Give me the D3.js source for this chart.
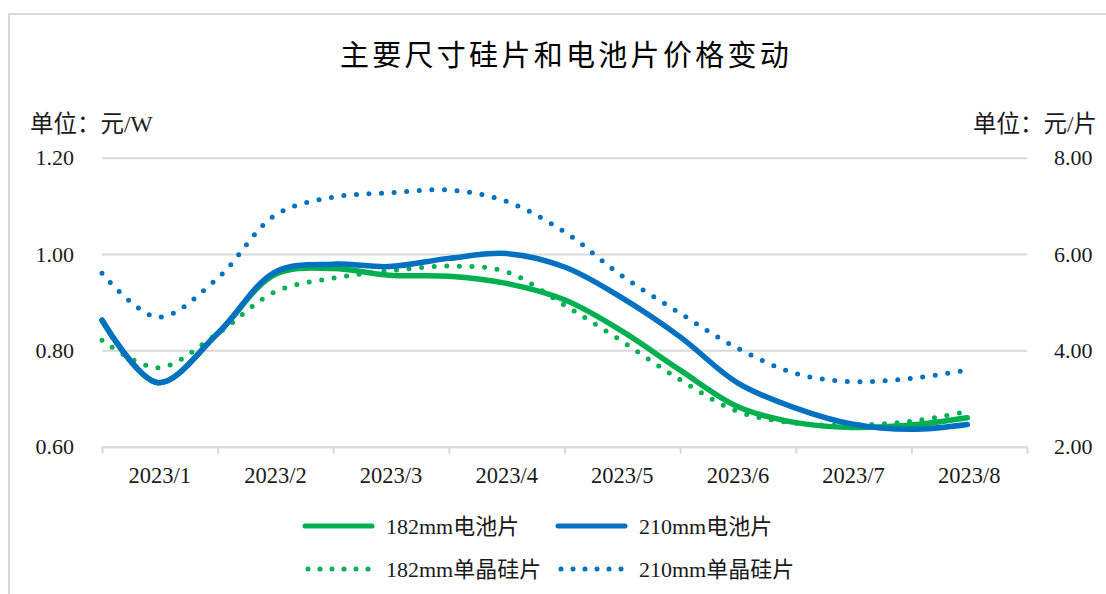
<!DOCTYPE html>
<html>
<head>
<meta charset="utf-8">
<script src="https://cdn.jsdelivr.net/npm/d3@7"></script>
<style>
  body { margin: 0; background: #fff; }
  svg { font-family: "Liberation Serif", "Noto Sans CJK SC", serif; }
</style>
</head>
<body>
<script>
// half-month sample dates
const dates = ["2023-01-01", "2023-01-16", "2023-02-01", "2023-02-15", "2023-03-01", "2023-03-16",
  "2023-04-01", "2023-04-16", "2023-05-01", "2023-05-16", "2023-06-01", "2023-06-16",
  "2023-07-01", "2023-07-16", "2023-08-01", "2023-08-16"];

const months = ["2023/1", "2023/2", "2023/3", "2023/4", "2023/5", "2023/6", "2023/7", "2023/8"];

// 元/W (left axis)
const cell182 = [0.862, 0.733, 0.835, 0.958, 0.970, 0.956, 0.954, 0.939,
  0.905, 0.842, 0.759, 0.683, 0.650, 0.640, 0.645, 0.660];
const cell210 = [0.863, 0.733, 0.835, 0.963, 0.979, 0.974, 0.991, 1.001,
  0.973, 0.911, 0.828, 0.732, 0.680, 0.647, 0.636, 0.646];

// 元/片 (right axis)
const wafer182 = [4.21, 3.64, 4.35, 5.22, 5.50, 5.65, 5.75, 5.63,
  4.94, 4.21, 3.39, 2.73, 2.49, 2.45, 2.53, 2.73];
const wafer210 = [5.60, 4.69, 5.50, 6.81, 7.18, 7.27, 7.33, 7.09,
  6.46, 5.57, 4.77, 4.04, 3.52, 3.35, 3.42, 3.59];

const leftTicks = [0.6, 0.8, 1.0, 1.2];
const rightTicks = [2, 4, 6, 8];

const green = "#00b050", blue = "#0070c0";
const ink = "#1a1a1a";

function monthPos(s) {
  const d = new Date(s + "T00:00:00");
  const days = new Date(d.getFullYear(), d.getMonth() + 1, 0).getDate();
  return d.getMonth() + (d.getDate() - 1) / days;
}

const W = 1106, H = 594;
const plotL = 102, plotR = 1027, plotT = 157.7, plotB = 446.7;

const svg = d3.select("body").append("svg")
  .attr("width", W)
  .attr("height", H);

// frame (only top and left edges are visible in the crop)
svg.append("path")
  .attr("d", `M9,${H} V14 H${W}`)
  .attr("fill", "none")
  .attr("stroke", "#d9d9d9")
  .attr("stroke-width", 2);

svg.append("text")
  .attr("x", 566).attr("y", 66)
  .attr("text-anchor", "middle")
  .attr("font-family", "Noto Sans CJK SC")
  .attr("font-size", 29)
  .attr("letter-spacing", 3.3)
  .attr("fill", "#000")
  .text("主要尺寸硅片和电池片价格变动");

svg.append("text")
  .attr("x", 30).attr("y", 132)
  .attr("font-size", 23.5)
  .attr("fill", ink)
  .text("单位：元/W");

svg.append("text")
  .attr("x", 1097).attr("y", 132)
  .attr("text-anchor", "end")
  .attr("font-size", 23.5)
  .attr("fill", ink)
  .text("单位：元/片");

let x = d3.scaleLinear().domain([0, months.length]).range([plotL, plotR]);
let band = d3.scaleBand().domain(months).range([plotL, plotR]);
let yL = d3.scaleLinear().domain([0.6, 1.2]).range([plotB, plotT]);
let yR = d3.scaleLinear().domain([2, 8]).range([plotB, plotT]);

// gridlines + left labels
let gL = svg.append("g")
  .attr("transform", `translate(${plotL},0)`)
  .call(d3.axisLeft(yL).tickValues(leftTicks).tickFormat(d3.format(".2f")).tickSize(-(plotR - plotL)).tickPadding(28));
gL.select(".domain").remove();
gL.selectAll("line").attr("stroke", "#d9d9d9").attr("stroke-width", 2);
gL.selectAll("text").attr("font-size", 22).attr("fill", ink).attr("font-family", "Liberation Serif");

let gR = svg.append("g")
  .attr("transform", `translate(${plotR},0)`)
  .call(d3.axisRight(yR).tickValues(rightTicks).tickFormat(d3.format(".2f")).tickSize(0).tickPadding(27));
gR.select(".domain").remove();
gR.selectAll("text").attr("font-size", 22).attr("fill", ink).attr("font-family", "Liberation Serif");

// bottom axis: tick marks on month boundaries, labels centred in bands
let gT = svg.append("g")
  .attr("transform", `translate(0,${plotB})`)
  .call(d3.axisBottom(x).tickValues(d3.range(months.length + 1)).tickFormat("").tickSize(7).tickSizeOuter(0));
gT.select(".domain").attr("stroke", "#d9d9d9").attr("stroke-width", 2);
gT.selectAll("line").attr("stroke", "#d9d9d9").attr("stroke-width", 2);

let gB = svg.append("g")
  .attr("transform", `translate(0,${plotB})`)
  .call(d3.axisBottom(band).tickSize(0).tickPadding(20));
gB.select(".domain").remove();
gB.selectAll("text").attr("font-size", 22.5).attr("fill", ink).attr("font-family", "Liberation Serif");

const series = [
  { name: "182mm电池片", values: cell182, y: yL, color: green, dotted: false },
  { name: "210mm电池片", values: cell210, y: yL, color: blue, dotted: false },
  { name: "182mm单晶硅片", values: wafer182, y: yR, color: green, dotted: true },
  { name: "210mm单晶硅片", values: wafer210, y: yR, color: blue, dotted: true }
];

function drawLines() {
  const order = [series[2], series[3], series[0], series[1]];
  order.forEach(s => {
    const line = d3.line()
      .x((d, i) => x(monthPos(dates[i])))
      .y(d => s.y(d))
      .curve(d3.curveCatmullRom.alpha(0.5));
    svg.append("path")
      .datum(s.values)
      .attr("fill", "none")
      .attr("stroke", s.color)
      .attr("stroke-width", s.dotted ? 5 : 5.5)
      .attr("stroke-linecap", "round")
      .attr("stroke-dasharray", s.dotted ? "0,12.6" : null)
      .attr("d", line);
  });
}
drawLines();

// legend
const legPos = [[305, 526], [558, 526], [305, 569], [558, 569]];
series.forEach((s, i) => {
  const [lx, ly] = legPos[i];
  svg.append("line")
    .attr("x1", s.dotted ? lx + 3 : lx).attr("x2", lx + 67)
    .attr("y1", ly).attr("y2", ly)
    .attr("stroke", s.color)
    .attr("stroke-width", 5)
    .attr("stroke-linecap", "round")
    .attr("stroke-dasharray", s.dotted ? "0,12" : null);
  svg.append("text")
    .attr("x", lx + 81).attr("y", ly + 8)
    .attr("font-size", 22)
    .attr("fill", ink)
    .text(s.name);
});
</script>
</body>
</html>
